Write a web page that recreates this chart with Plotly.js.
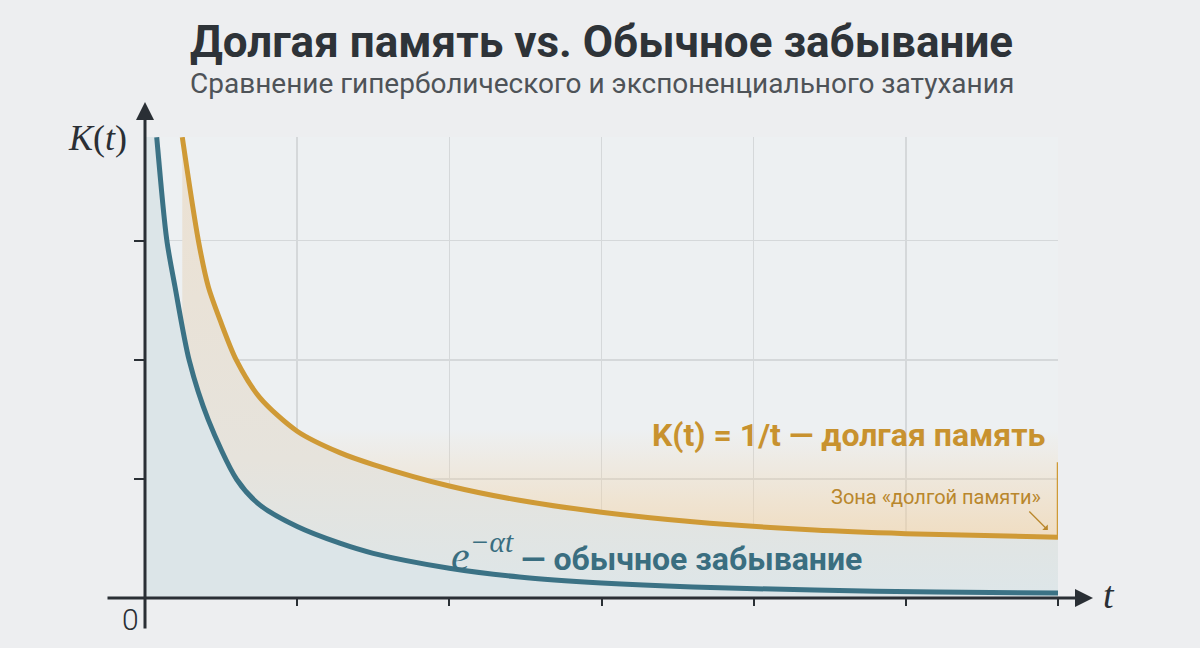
<!DOCTYPE html>
<html>
<head>
<meta charset="utf-8">
<script src="https://cdn.plot.ly/plotly-3.0.1.min.js"></script>
<style>
  html, body { margin: 0; padding: 0; background: #edeef0; }
  #chart { width: 1200px; height: 648px; }
</style>
</head>
<body>
<div id="chart"></div>
<script>
// Hyperbolic kernel K(t) ~ 1/t : long memory
const hyperT = [0.245, 0.35, 0.416, 0.493, 0.602, 0.756, 1.0, 1.28, 1.5, 2.0, 2.46, 3.0, 3.6, 4.4, 5.0, 6.0];
const hyperK = [3.868, 3.006, 2.614, 2.334, 1.992, 1.68, 1.40, 1.22, 1.12, 0.94, 0.82, 0.72, 0.64, 0.57, 0.54, 0.51];

// Exponential kernel e^{-αt} : ordinary forgetting
const expT = [0.077, 0.143, 0.197, 0.291, 0.416, 0.602, 0.756, 1.0, 1.28, 1.5, 2.0, 2.46, 3.0, 3.6, 4.4, 5.2, 6.0];
const expK = [3.868, 3.006, 2.614, 1.992, 1.495, 0.997, 0.78, 0.60, 0.46, 0.375, 0.25, 0.176, 0.126, 0.092, 0.067, 0.05, 0.042];

// Upper edge of the "long memory" zone above the hyperbola
const zoneTop = 1.42;
const zoneFrom = 1.0;

const gridTicksX = [1, 2, 3, 4, 5, 6];
const gridTicksY = [1, 2, 3];

const GOLD = '#cf9a36';
const GOLD_TEXT = '#c8922f';
const TEAL = '#3b7285';
const TEAL_TEXT = '#3a6e80';
const INK = '#2a2f35';

// hyperbola points inside the zone
const zoneT = hyperT.filter(t => t >= zoneFrom);
const zoneK = hyperK.filter((k, i) => hyperT[i] >= zoneFrom);

const traces = [
  // fill under the hyperbola (warm on top, cool at the bottom)
  {
    x: hyperT, y: hyperK, type: 'scatter', mode: 'lines',
    line: { width: 0, shape: 'spline', smoothing: 0.8 },
    fill: 'tozeroy',
    fillgradient: {
      type: 'vertical', start: 0, stop: 3.87,
      colorscale: [[0, '#dde6e9'], [0.3, '#e6e3dc'], [1, '#ece1d2']]
    },
    hoverinfo: 'skip', showlegend: false
  },
  // fill under the exponential
  {
    x: [0].concat(expT), y: [expK[0]].concat(expK), type: 'scatter', mode: 'lines',
    line: { width: 0, shape: 'spline', smoothing: 0.8 },
    fill: 'tozeroy', fillcolor: '#dce5e8',
    hoverinfo: 'skip', showlegend: false
  },
  // zone: lower edge follows the hyperbola
  {
    x: zoneT, y: zoneK, type: 'scatter', mode: 'lines',
    line: { width: 0, shape: 'spline', smoothing: 0.8 },
    hoverinfo: 'skip', showlegend: false
  },
  // zone: flat upper edge, filled down to the curve
  {
    x: [zoneT[0], zoneT[zoneT.length - 1]], y: [zoneTop, zoneTop], type: 'scatter', mode: 'lines',
    line: { width: 0 },
    fill: 'tonexty',
    fillgradient: {
      type: 'vertical', start: 0.5, stop: zoneTop,
      colorscale: [[0, 'rgba(242,208,160,0.6)'], [0.5, 'rgba(242,208,160,0.3)'], [1, 'rgba(242,208,160,0)']]
    },
    hoverinfo: 'skip', showlegend: false
  },
  // curves
  {
    x: hyperT, y: hyperK, type: 'scatter', mode: 'lines',
    line: { color: GOLD, width: 5, shape: 'spline', smoothing: 0.8 },
    hoverinfo: 'skip', showlegend: false
  },
  {
    x: expT, y: expK, type: 'scatter', mode: 'lines',
    line: { color: TEAL, width: 5, shape: 'spline', smoothing: 0.8 },
    hoverinfo: 'skip', showlegend: false
  }
];

const layout = {
  width: 1200, height: 648,
  margin: { l: 145, r: 142, t: 137, b: 50 },
  paper_bgcolor: '#edeef0',
  plot_bgcolor: '#edf0f2',
  showlegend: false,
  title: {
    text: '<b>Долгая память vs. Обычное забывание</b>',
    font: { family: 'Roboto, sans-serif', size: 44, color: '#2e3338' },
    x: 0.5, xanchor: 'center', xref: 'paper',
    y: 1 - 42 / 648, yanchor: 'middle', yref: 'container'
  },
  xaxis: {
    range: [0, 6], tickvals: gridTicksX, showticklabels: false,
    showgrid: true, gridcolor: '#d5d8da', gridwidth: 1.5,
    zeroline: false, showline: false,
    ticks: 'outside', ticklen: 7, tickwidth: 2, tickcolor: INK,
    fixedrange: true
  },
  yaxis: {
    range: [0, 3.87], tickvals: gridTicksY, showticklabels: false,
    showgrid: true, gridcolor: '#d5d8da', gridwidth: 1.5,
    zeroline: false, showline: false,
    ticks: 'outside', ticklen: 10, tickwidth: 2, tickcolor: INK,
    fixedrange: true
  },
  shapes: [
    // right edge of the zone
    { type: 'line', xref: 'x', yref: 'y', x0: 6, x1: 6, y0: 0.51, y1: 1.14,
      line: { color: GOLD, width: 2.5 } }
  ],
  annotations: [
    {
      text: 'Сравнение гиперболического и экспоненциального затухания',
      xref: 'paper', yref: 'paper', x: 0.5, y: (598 - 83) / 461,
      xanchor: 'center', yanchor: 'middle', showarrow: false,
      font: { family: 'Roboto, sans-serif', size: 28, color: '#4e5358' }
    },
    // t axis with arrow
    {
      x: (1093 - 145) / 913, y: 0, xref: 'paper', yref: 'paper',
      ax: -987, ay: 0, axref: 'pixel', ayref: 'pixel',
      showarrow: true, arrowhead: 2, arrowsize: 1.2, arrowwidth: 3, arrowcolor: INK, text: ''
    },
    // K axis with arrow
    {
      x: 0, y: (598 - 102) / 461, xref: 'paper', yref: 'paper',
      ax: 0, ay: 528, axref: 'pixel', ayref: 'pixel',
      showarrow: true, arrowhead: 2, arrowsize: 1.2, arrowwidth: 3, arrowcolor: INK, text: ''
    },
    {
      text: '<i>K</i>(<i>t</i>)', x: (97 - 145) / 913, y: (598 - 138) / 461, xref: 'paper', yref: 'paper',
      xanchor: 'center', yanchor: 'middle', showarrow: false,
      font: { family: 'Liberation Serif, DejaVu Serif, serif', size: 36, color: INK }
    },
    {
      text: '<i>t</i>', x: (1109 - 145) / 913, y: (598 - 595) / 461, xref: 'paper', yref: 'paper',
      xanchor: 'center', yanchor: 'middle', showarrow: false,
      font: { family: 'Liberation Serif, DejaVu Serif, serif', size: 38, color: INK }
    },
    {
      text: '0', x: (130 - 145) / 913, y: (598 - 619) / 461, xref: 'paper', yref: 'paper',
      xanchor: 'center', yanchor: 'middle', showarrow: false,
      font: { family: 'Roboto, sans-serif', size: 30, weight: 300, color: INK }
    },
    {
      text: '<b>K(t) = 1/t — долгая память</b>', x: 5.933, y: (598 - 435) / 119.1, xref: 'x', yref: 'y',
      xanchor: 'right', yanchor: 'middle', showarrow: false,
      font: { family: 'Roboto, sans-serif', size: 32, color: GOLD_TEXT }
    },
    {
      text: '<span style="font-family:Liberation Serif,serif;font-style:italic;font-size:42px">e<sup>−αt</sup></span><b> — обычное забывание</b>',
      x: 2.0, y: 0.386, xref: 'x', yref: 'y',
      xanchor: 'left', yanchor: 'middle', showarrow: false,
      font: { family: 'Roboto, sans-serif', size: 32, color: TEAL_TEXT }
    },
    {
      text: 'Зона «долгой памяти»', x: 5.9, y: 0.848, xref: 'x', yref: 'y',
      xanchor: 'right', yanchor: 'middle', showarrow: false,
      font: { family: 'Roboto, sans-serif', size: 20, color: '#b9872c' }
    },
    {
      x: 5.933, y: 0.571, xref: 'x', yref: 'y', ax: -20, ay: -20,
      showarrow: true, arrowhead: 1, arrowsize: 1, arrowwidth: 1.3, arrowcolor: '#b9872c', text: ''
    }
  ]
};

Plotly.newPlot('chart', traces, layout, { displayModeBar: false, staticPlot: true });
</script>
</body>
</html>
